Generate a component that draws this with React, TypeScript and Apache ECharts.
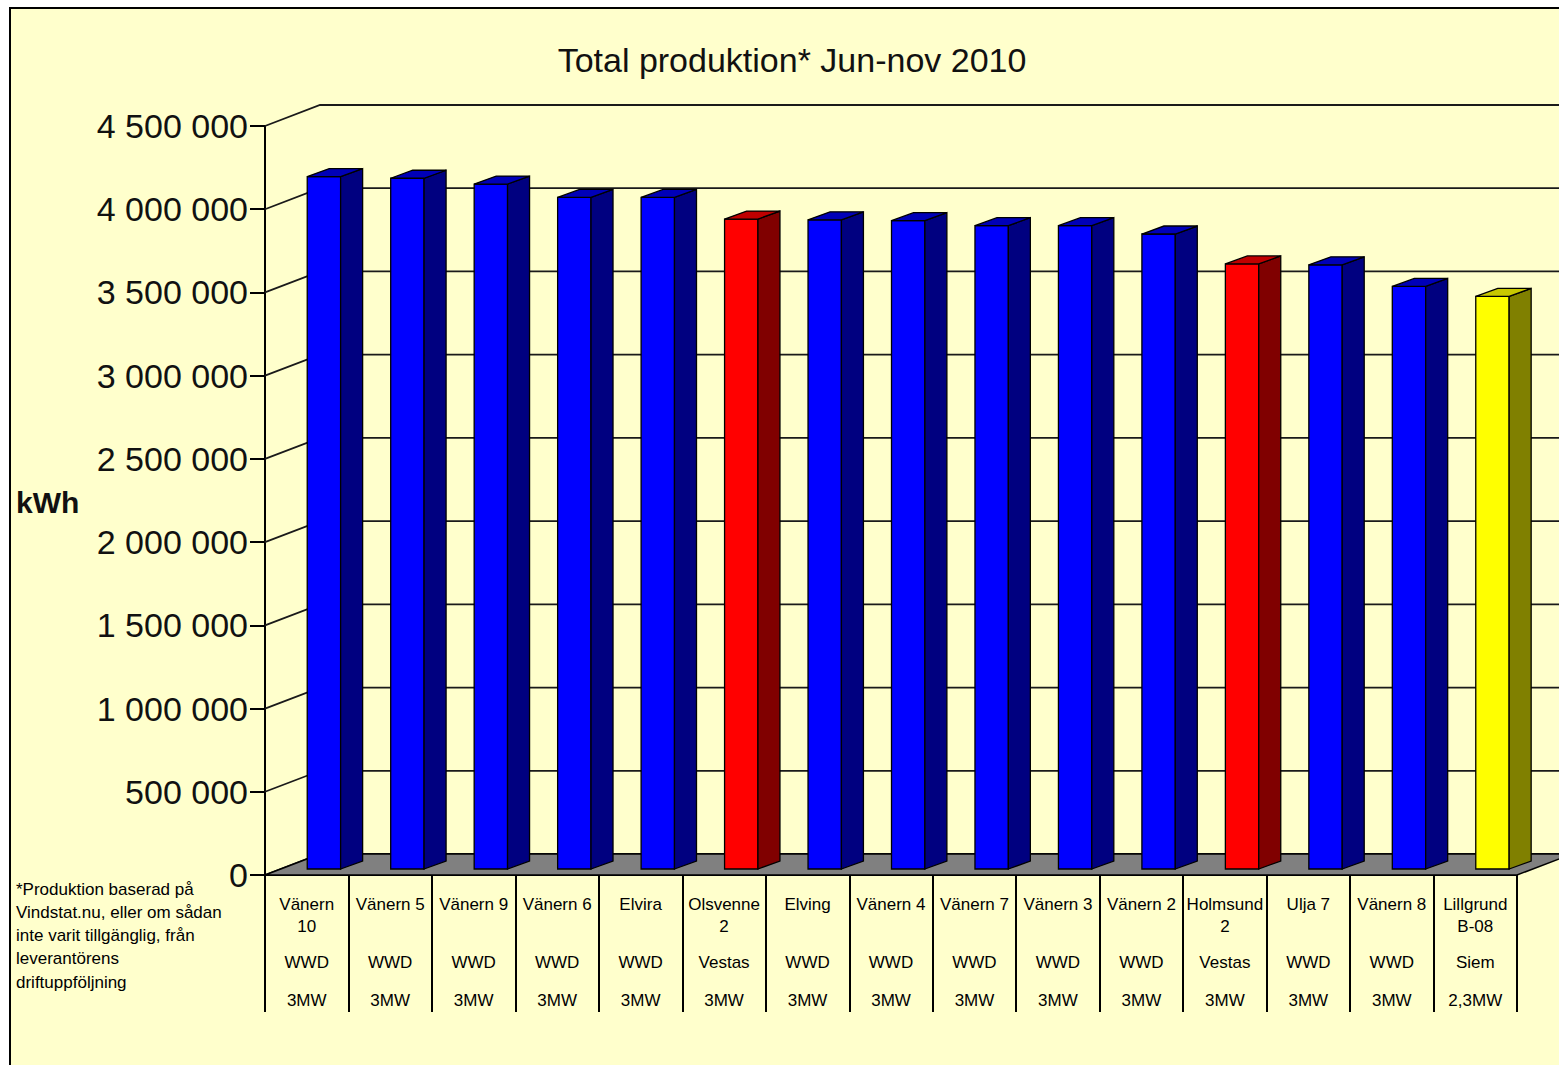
import React, { useEffect, useRef } from "react";
import * as echarts from "echarts";

const names = [
  "Vänern\n10", "Vänern 5", "Vänern 9", "Vänern 6", "Elvira", "Olsvenne\n2", "Elving",
  "Vänern 4", "Vänern 7", "Vänern 3", "Vänern 2", "Holmsund\n2", "Ulja 7", "Vänern 8", "Lillgrund\nB-08",
];
const makers = [
  "WWD", "WWD", "WWD", "WWD", "WWD", "Vestas", "WWD",
  "WWD", "WWD", "WWD", "WWD", "Vestas", "WWD", "WWD", "Siem",
];
const powers = [
  "3MW", "3MW", "3MW", "3MW", "3MW", "3MW", "3MW",
  "3MW", "3MW", "3MW", "3MW", "3MW", "3MW", "3MW", "2,3MW",
];
const production = [
  4160000, 4150000, 4115000, 4035000, 4035000, 3905000, 3900000,
  3895000, 3865000, 3865000, 3815000, 3635000, 3630000, 3500000, 3440000,
];
const yTicks = [0, 500000, 1000000, 1500000, 2000000, 2500000, 3000000, 3500000, 4000000, 4500000];
const makerColors: Record<string, string[]> = {
  WWD: ["#0000FF", "#000080", "#0000B8"],
  Vestas: ["#FF0000", "#800000", "#C00000"],
  Siem: ["#FFFF00", "#808000", "#C8C800"],
};
const titleText = "Total produktion* Jun-nov 2010";
const unitText = "kWh";
const footnote = [
  "*Produktion baserad på",
  "Vindstat.nu, eller om sådan",
  "inte varit tillgänglig, från",
  "leverantörens",
  "driftuppföljning",
];

const FONT = "'Liberation Sans', Arial, sans-serif";
const DX = 55;
const DY = -21;

function fmt(v: number) {
  return String(v).replace(/\B(?=(\d{3})+(?!\d))/g, " ");
}

export default function App() {
  const ref = useRef<HTMLDivElement>(null);
  useEffect(() => {
    document.body.style.margin = "0";
    const chart = echarts.init(ref.current!, null, { renderer: "svg" });
    const option: any = {
      animation: false,
      backgroundColor: "#ffffff",
      grid: { left: 265, right: 42, top: 126, bottom: 190 },
      xAxis: {
        type: "category",
        data: names,
        boundaryGap: true,
        axisLine: { show: true, lineStyle: { color: "#000", width: 2 } },
        axisTick: { show: true, interval: 0, length: 137, alignWithLabel: false, lineStyle: { color: "#000", width: 2 } },
        axisLabel: {
          interval: 0,
          margin: 18,
          verticalAlign: "top",
          formatter: (val: string, idx: number) => {
            const parts = val.split("\n");
            const l1 = `{a|${parts[0]}}`;
            const l2 = `{a|${parts[1] || " "}}`;
            return `${l1}\n${l2}\n{b|${makers[idx]}}\n{c|${powers[idx]}}`;
          },
          rich: {
            a: { fontFamily: FONT, fontSize: 17, lineHeight: 22, color: "#000", align: "center" },
            b: { fontFamily: FONT, fontSize: 17, lineHeight: 50, color: "#000", align: "center" },
            c: { fontFamily: FONT, fontSize: 17, lineHeight: 26, color: "#000", align: "center" },
          },
        },
        splitLine: { show: false },
      },
      yAxis: {
        type: "value",
        min: 0,
        max: 4500000,
        interval: 500000,
        axisLine: { show: true, lineStyle: { color: "#000", width: 2 } },
        axisTick: { show: true, length: 15, lineStyle: { color: "#000", width: 2 } },
        axisLabel: { fontFamily: FONT, fontSize: 34, color: "#111", margin: 17, formatter: (v: number) => fmt(v) },
        splitLine: { show: false },
      },
      graphic: [
        { type: "rect", z: -100, shape: { x: 10, y: 8, width: 1700, height: 1200 }, style: { fill: "#FFFFCC", stroke: "#000", lineWidth: 2 } },
        { type: "text", z: 100, x: 792, y: 60, style: { text: titleText, font: `34px ${FONT}`, fill: "#111", textAlign: "center", textVerticalAlign: "middle" } },
        { type: "text", z: 100, x: 16, y: 502, style: { text: unitText, font: `bold 30px ${FONT}`, fill: "#111", textAlign: "left", textVerticalAlign: "middle" } },
        ...footnote.map((t, i) => ({
          type: "text", z: 100, x: 16, y: 889 + i * 23.3,
          style: { text: t, font: `17px ${FONT}`, fill: "#000", textAlign: "left", textVerticalAlign: "middle" },
        })),
      ],
      series: [
        {
          type: "custom",
          name: "walls",
          z: 1,
          data: yTicks.map((v) => [0, v]),
          encode: { x: 0, y: 1 },
          renderItem: (params: any, api: any) => {
            const cs = params.coordSys;
            const y = api.coord([0, api.value(1)])[1];
            const x0 = cs.x;
            const x1 = cs.x + cs.width;
            return {
              type: "polyline",
              shape: { points: [[x0, y], [x0 + DX, y + DY], [x1 + DX + 100, y + DY]] },
              style: { stroke: "#1a1a1a", lineWidth: 1.8, fill: null },
            };
          },
        },
        {
          type: "custom",
          name: "floor",
          z: 2,
          data: [[0, 0]],
          encode: { x: 0, y: 1 },
          renderItem: (params: any, api: any) => {
            const cs = params.coordSys;
            const y = api.coord([0, 0])[1];
            const x0 = cs.x;
            const x1 = cs.x + cs.width;
            return {
              type: "polygon",
              shape: { points: [[x0, y], [x1, y], [x1 + DX, y + DY], [x0 + DX, y + DY]] },
              style: { fill: "#808080", stroke: "#000", lineWidth: 1.5 },
            };
          },
        },
        {
          type: "custom",
          name: "Total produktion",
          z: 3,
          data: production.map((v, i) => [i, v]),
          encode: { x: 0, y: 1 },
          renderItem: (params: any, api: any) => {
            const i = api.value(0);
            const v = api.value(1);
            const base = api.coord([i, 0]);
            const top = api.coord([i, v]);
            const w = api.size([1, 0])[0];
            const x1 = base[0] + 0.5;
            const x2 = x1 + w * 0.4;
            const yb = base[1] - 6;
            const yt = top[1] - 6;
            const dx = 22;
            const dy = -8;
            const c = makerColors[makers[params.dataIndex]];
            const st = (f: string) => ({ fill: f, stroke: "#000", lineWidth: 1.3 });
            return {
              type: "group",
              children: [
                { type: "polygon", shape: { points: [[x1, yb], [x2, yb], [x2, yt], [x1, yt]] }, style: st(c[0]) },
                { type: "polygon", shape: { points: [[x2, yb], [x2 + dx, yb + dy], [x2 + dx, yt + dy], [x2, yt]] }, style: st(c[1]) },
                { type: "polygon", shape: { points: [[x1, yt], [x2, yt], [x2 + dx, yt + dy], [x1 + dx, yt + dy]] }, style: st(c[2]) },
              ],
            };
          },
        },
      ],
    };
    chart.setOption(option);
    return () => chart.dispose();
  }, []);
  return <div ref={ref} style={{ width: 1559, height: 1065 }} />;
}
